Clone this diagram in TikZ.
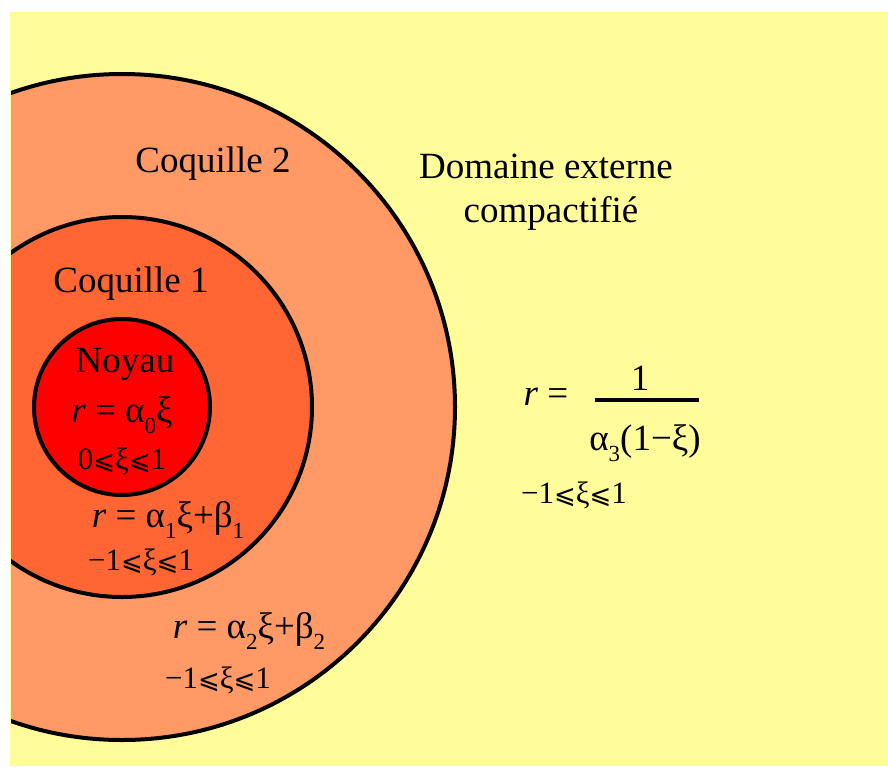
\documentclass[tikz,border=0pt]{standalone}
\usepackage{fontspec}
\setmainfont{Liberation Serif}
\newfontfamily\symfont{DejaVu Sans}
\usepackage{tikz}

\definecolor{fondjaune}{HTML}{FFFD99}
\definecolor{coqdeux}{HTML}{FF9966}
\definecolor{coqun}{HTML}{FF6633}
\definecolor{noyaucol}{HTML}{FF0000}

\newcommand{\lowidx}[1]{\raisebox{-0.3em}{\fontsize{23}{23}\selectfont #1}}
\newcommand{\leqs}{{\symfont\fontsize{26}{26}\selectfont ⩽}}

\tikzset{
  zone/.style={draw=black,line width=4pt},
  big/.style={font=\fontsize{37}{44}\selectfont,inner sep=0pt,anchor=base},
  small/.style={font=\fontsize{31}{36}\selectfont,inner sep=0pt,anchor=base},
}

\begin{document}
\begin{tikzpicture}[x=1pt,y=-1pt]
  \useasboundingbox (0,0) rectangle (888,766);
  \fill[fondjaune] (10,12) rectangle (888,766);
  % the three nested domains, cut by the left border
  \begin{scope}
    \clip (11,12) rectangle (888,766);
    \draw[zone,fill=coqdeux] (122,407) circle (333pt);
    \draw[zone,fill=coqun] (122,407) circle (190pt);
    \draw[zone,fill=noyaucol] (122,407) circle (88pt);
  \end{scope}
  \node[big] (coq2) at (213,172) {Coquille 2};
  \node[big] (coq1) at (131,292) {Coquille 1};
  \node[big] (noyau) at (125,372) {Noyau};
  \node[big] (rzero) at (122,422) {\textit{r} = α\lowidx{0}ξ};
  \node[small] (xizero) at (122,469) {0\leqs ξ\leqs 1};
  \node[big] (run) at (168,527) {\textit{r} = α\lowidx{1}ξ+β\lowidx{1}};
  \node[small] (xiun) at (141,570) {−1\leqs ξ\leqs 1};
  \node[big] (rdeux) at (249,638) {\textit{r} = α\lowidx{2}ξ+β\lowidx{2}};
  \node[small] (xideux) at (218,688) {−1\leqs ξ\leqs 1};
  % outer domain
  \node[big] (domaine) at (546,178) {Domaine externe};
  \node[big] (compact) at (551,222) {compactifié};
  \node[big] (rtrois) at (546,405) {\textit{r} =};
  \node[big] (num) at (640,390) {1};
  \draw[line width=3.5pt] (595,400) -- (699,400);
  \node[big] (den) at (645,450) {α\lowidx{3}(1−ξ)};
  \node[small] (xitrois) at (574,503) {−1\leqs ξ\leqs 1};
\end{tikzpicture}
\end{document}
